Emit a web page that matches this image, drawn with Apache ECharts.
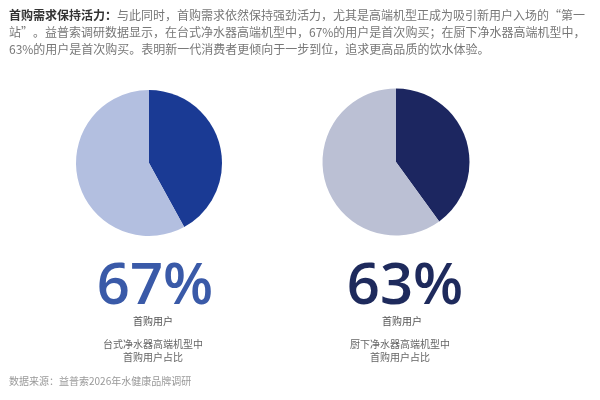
<!DOCTYPE html>
<html><head><meta charset="utf-8">
<script src="https://cdn.jsdelivr.net/npm/echarts@6/dist/echarts.min.js"></script>
<style>html,body{margin:0;padding:0;background:#fff}#c{width:600px;height:400px}</style>
</head><body><div id="c"></div>
<script>
const pieNames = ['首购用户', '非首购用户'];
const pieLeft = [42, 58];
const pieRight = [40, 60];
const bigLabels = ['67%', '63%'];
const subLabel = '首购用户';
const descLeft = ['台式净水器高端机型中', '首购用户占比'];
const descRight = ['厨下净水器高端机型中', '首购用户占比'];
const headBold = '首购需求保持活力：';
const headLines = [
  '与此同时，首购需求依然保持强劲活力，尤其是高端机型正成为吸引新用户入场的“第一',
  '站”。益普索调研数据显示，在台式净水器高端机型中，67%的用户是首次购买；在厨下净水器高端机型中，',
  '63%的用户是首次购买。表明新一代消费者更倾向于一步到位，追求更高品质的饮水体验。'
];
const source = '数据来源：益普索2026年水健康品牌调研';

const F = '"Noto Sans CJK SC", "Noto Sans", sans-serif';
const chart = echarts.init(document.getElementById('c'));
function pieData(vals, colors) {
  return vals.map((v, i) => ({ name: pieNames[i], value: v, itemStyle: { color: colors[i] } }));
}
const txt = (x, y, text, style) => ({ type: 'text', x, y, style: Object.assign({ text, font: '12px ' + F, fill: '#666', textVerticalAlign: 'middle' }, style) });
const BIG = '600 58px "Open Sans", "Noto Sans", sans-serif';
chart.setOption({
  animation: false,
  series: [
    { type: 'pie', center: [149, 163], radius: 73, startAngle: 90, label: { show: false }, labelLine: { show: false }, silent: true,
      data: pieData(pieLeft, ['#1a3a94', '#b3bfe0']) },
    { type: 'pie', center: [396, 162], radius: 73.5, startAngle: 90, label: { show: false }, labelLine: { show: false }, silent: true,
      data: pieData(pieRight, ['#1c2660', '#bbc0d4']) }
  ],
  graphic: [
    { type: 'text', x: 9, y: 15, style: { rich: { b: { font: 'bold 12px ' + F, fill: '#333' }, n: { font: '12px ' + F, fill: '#777' } }, text: '{b|' + headBold + '}{n|' + headLines[0] + '}', textVerticalAlign: 'middle' } },
    txt(9, 32, headLines[1], { fill: '#777' }),
    txt(9, 49, headLines[2], { fill: '#777' }),
    txt(155, 287, bigLabels[0], { font: BIG, fill: '#3a5aa8', textAlign: 'center' }),
    txt(405, 287, bigLabels[1], { font: BIG, fill: '#1e2a5c', textAlign: 'center' }),
    txt(153, 321, subLabel, { font: '10px ' + F, fill: '#555', textAlign: 'center' }),
    txt(402, 321, subLabel, { font: '10px ' + F, fill: '#555', textAlign: 'center' }),
    txt(153, 344, descLeft[0], { font: '10px ' + F, fill: '#666', textAlign: 'center' }),
    txt(153, 357, descLeft[1], { font: '10px ' + F, fill: '#666', textAlign: 'center' }),
    txt(400, 344, descRight[0], { font: '10px ' + F, fill: '#666', textAlign: 'center' }),
    txt(400, 357, descRight[1], { font: '10px ' + F, fill: '#666', textAlign: 'center' }),
    txt(9, 381, source, { font: '10px ' + F, fill: '#999' })
  ]
});
</script></body></html>
